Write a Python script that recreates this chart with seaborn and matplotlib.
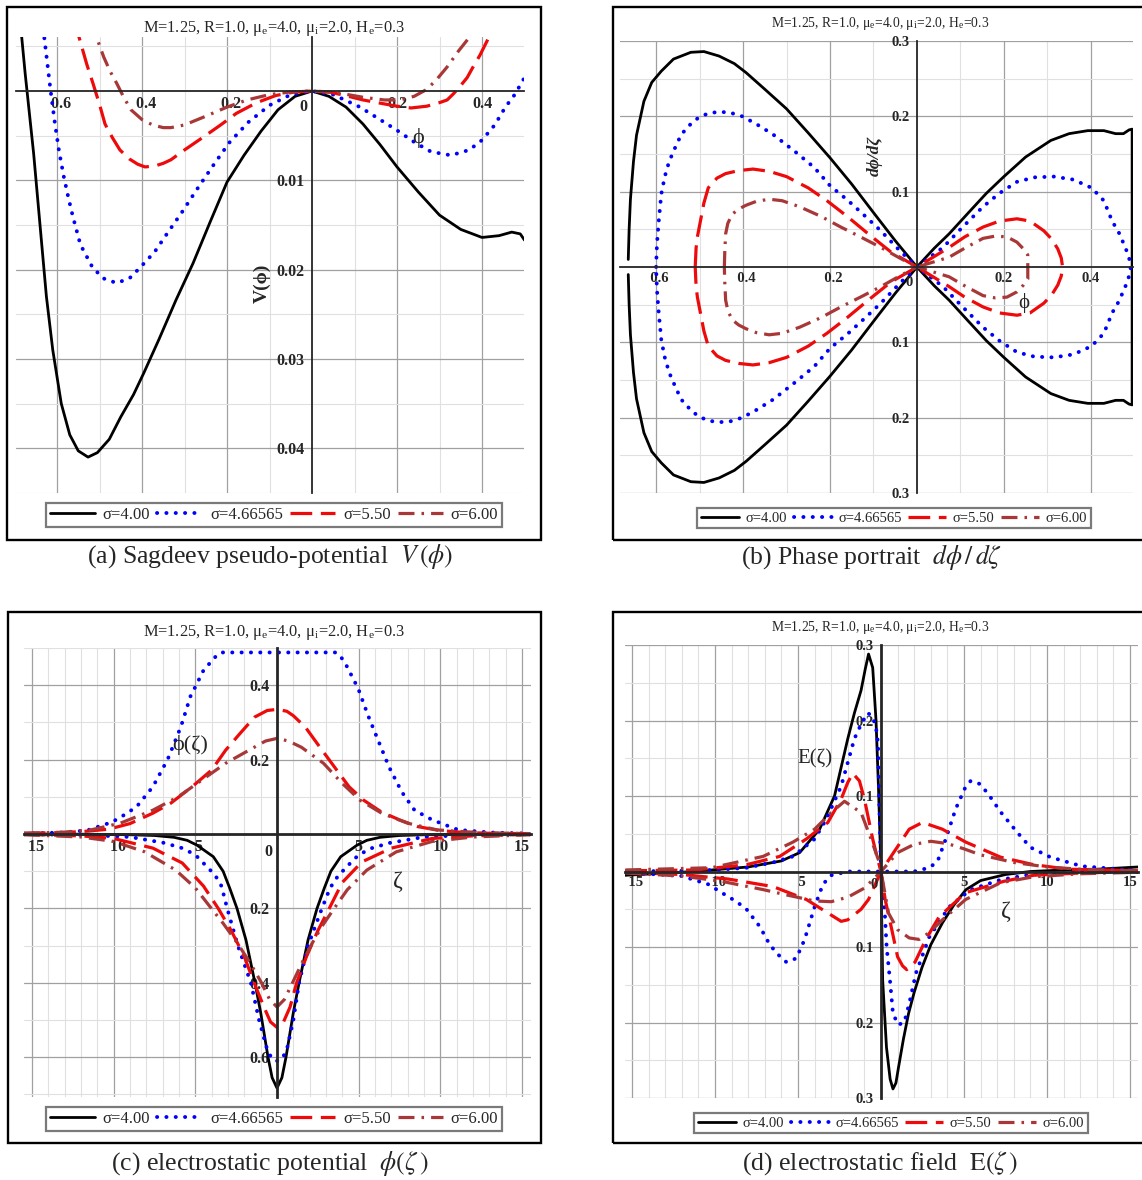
import numpy as np
import matplotlib
matplotlib.use("Agg")
import matplotlib.pyplot as plt
from matplotlib.patches import Rectangle
from matplotlib.ticker import MultipleLocator
import seaborn as sns

# ----------------------------------------------------------
# Values
# ----------------------------------------------------------
sigma_labels = ["σ=4.00", "σ=4.66565", "σ=5.50", "σ=6.00"]

# (a) Sagdeev pseudo-potential V(phi)
a_phi_1 = [-0.695, -0.675, -0.655, -0.64, -0.625, -0.61, -0.59, -0.57, -0.55, -0.527, -0.505, -0.477,
           -0.45, -0.42, -0.396, -0.36, -0.32, -0.28, -0.24, -0.2, -0.16, -0.12, -0.08, -0.04, 0.0,
           0.04, 0.08, 0.12, 0.16, 0.2, 0.25, 0.3, 0.35, 0.4, 0.44, 0.47, 0.49, 0.5]
a_V_1 = [0.012, 0.002, -0.007, -0.015, -0.023, -0.029, -0.035, -0.0385, -0.0403, -0.041, -0.0405, -0.039,
         -0.0365, -0.034, -0.0316, -0.0278, -0.0234, -0.0193, -0.0147, -0.0102, -0.0072, -0.0045, -0.0021,
         -0.0006, 0.0, -0.0006, -0.0018, -0.0037, -0.006, -0.0085, -0.0113, -0.0139, -0.0155, -0.0164,
         -0.0162, -0.0158, -0.016, -0.0167]
a_phi_2 = [-0.635, -0.625, -0.615, -0.605, -0.595, -0.584, -0.573, -0.563, -0.545, -0.516, -0.49, -0.46,
           -0.43, -0.405, -0.37, -0.34, -0.305, -0.272, -0.235, -0.195, -0.15, -0.1, -0.05, 0.0, 0.05,
           0.113, 0.16, 0.2, 0.24, 0.28, 0.327, 0.37, 0.4, 0.43, 0.455, 0.477, 0.5]
a_V_2 = [0.008, 0.004, 0.0, -0.0036, -0.0068, -0.0096, -0.012, -0.014, -0.0172, -0.0198, -0.021, -0.0215,
         -0.021, -0.0198, -0.018, -0.0159, -0.0135, -0.0111, -0.0085, -0.0058, -0.0035, -0.0016, -0.0004,
         0.0, -0.0004, -0.0018, -0.0032, -0.0044, -0.0057, -0.0068, -0.0072, -0.0066, -0.0055, -0.0038,
         -0.0018, -0.0004, 0.0015]
a_phi_3 = [-0.56, -0.545, -0.53, -0.515, -0.5, -0.487, -0.47, -0.452, -0.43, -0.41, -0.393, -0.37, -0.35,
           -0.332, -0.3, -0.254, -0.215, -0.178, -0.13, -0.085, -0.04, 0.0, 0.04, 0.078, 0.12, 0.165, 0.2,
           0.233, 0.27, 0.3, 0.318, 0.333, 0.348, 0.365, 0.379, 0.395, 0.416, 0.43]
a_V_3 = [0.008, 0.0055, 0.003, 0.0008, -0.0015, -0.0037, -0.0052, -0.0066, -0.0076, -0.0082, -0.0085,
         -0.0084, -0.0081, -0.0077, -0.0066, -0.0051, -0.0038, -0.0025, -0.0013, -0.0005, -0.0001, 0.0,
         -0.0001, -0.0005, -0.001, -0.0014, -0.0017, -0.0019, -0.0017, -0.0013, -0.001, -0.0003, 0.0005,
         0.0015, 0.0027, 0.004, 0.006, 0.008]
a_phi_4 = [-0.51, -0.503, -0.49, -0.475, -0.46, -0.443, -0.426, -0.4, -0.375, -0.35, -0.332, -0.3, -0.254,
           -0.2, -0.153, -0.1, -0.05, 0.0, 0.06, 0.12, 0.17, 0.207, 0.24, 0.267, 0.29, 0.318, 0.345, 0.37,
           0.385]
a_V_4 = [0.008, 0.0055, 0.0038, 0.0022, 0.0009, -0.0007, -0.0021, -0.0032, -0.0038, -0.0041, -0.0041,
         -0.0038, -0.0029, -0.0018, -0.001, -0.0004, -0.0001, 0.0, -0.0002, -0.0007, -0.001, -0.001, -0.0006,
         0.0001, 0.0011, 0.0027, 0.0045, 0.006, 0.0075]

# (b) phase portrait, upper half of each orbit (lower half is its mirror)
b_phi_1 = [-0.664, -0.662, -0.659, -0.652, -0.645, -0.628, -0.61, -0.588, -0.56, -0.52, -0.49, -0.455,
           -0.42, -0.393, -0.35, -0.3, -0.25, -0.2, -0.15, -0.097, -0.05, 0.0, 0.04, 0.074, 0.12, 0.16,
           0.2, 0.25, 0.308, 0.35, 0.393, 0.43, 0.457, 0.475, 0.488, 0.495]
b_dp_1 = [0.01, 0.05, 0.09, 0.14, 0.175, 0.22, 0.245, 0.26, 0.276, 0.285, 0.286, 0.28, 0.27, 0.258, 0.236,
          0.21, 0.178, 0.145, 0.11, 0.07, 0.035, 0.0, 0.025, 0.044, 0.073, 0.098, 0.12, 0.146, 0.168,
          0.177, 0.181, 0.181, 0.177, 0.177, 0.182, 0.183]
b_phi_2 = [-0.60, -0.598, -0.594, -0.588, -0.58, -0.57, -0.555, -0.542, -0.52, -0.503, -0.48, -0.455,
           -0.43, -0.402, -0.37, -0.331, -0.28, -0.236, -0.2, -0.158, -0.12, -0.083, -0.04, 0.0, 0.06, 0.1,
           0.152, 0.19, 0.23, 0.27, 0.315, 0.36, 0.402, 0.43, 0.449, 0.465, 0.48, 0.488, 0.492]
b_dp_2 = [0.0, 0.03, 0.06, 0.097, 0.12, 0.14, 0.16, 0.176, 0.19, 0.198, 0.204, 0.206, 0.205, 0.2, 0.19,
          0.176, 0.153, 0.132, 0.108, 0.088, 0.068, 0.048, 0.022, 0.0, 0.026, 0.05, 0.08, 0.098, 0.113,
          0.119, 0.12, 0.116, 0.105, 0.088, 0.061, 0.045, 0.025, 0.012, 0.0]
b_phi_3 = [-0.51, -0.508, -0.505, -0.50, -0.49, -0.48, -0.46, -0.44, -0.41, -0.377, -0.34, -0.30, -0.25,
           -0.207, -0.16, -0.112, -0.06, 0.0, 0.04, 0.074, 0.11, 0.152, 0.19, 0.23, 0.26, 0.292, 0.31,
           0.324, 0.332, 0.335]
b_dp_3 = [0.0, 0.025, 0.04, 0.055, 0.085, 0.105, 0.118, 0.124, 0.128, 0.13, 0.127, 0.12, 0.105, 0.088,
          0.067, 0.044, 0.02, 0.0, 0.014, 0.026, 0.04, 0.053, 0.061, 0.064, 0.061, 0.048, 0.037, 0.024,
          0.012, 0.0]
b_phi_4 = [-0.443, -0.442, -0.44, -0.435, -0.425, -0.41, -0.393, -0.37, -0.34, -0.31, -0.27, -0.22,
           -0.175, -0.13, -0.083, -0.04, 0.0, 0.04, 0.074, 0.11, 0.152, 0.18, 0.207, 0.23, 0.245, 0.255]
b_dp_4 = [0.0, 0.02, 0.044, 0.058, 0.07, 0.077, 0.082, 0.087, 0.09, 0.088, 0.08, 0.067, 0.053, 0.04,
          0.026, 0.012, 0.0, 0.007, 0.013, 0.025, 0.038, 0.041, 0.04, 0.033, 0.024, 0.016]

# (c) electrostatic potential phi(zeta): negative (n) and positive (p) solitons
c_z_1 = [-15.5, -12, -9, -7.5, -6.3, -5.5, -4.9, -3.9, -3.3, -2.9, -2.45, -1.9, -1.35, -1.0, -0.55, -0.3,
         0.0, 0.3, 0.55, 1.0, 1.35, 1.9, 2.45, 2.9, 3.3, 3.9, 4.9, 5.5, 6.3, 7.5, 9, 12, 15.5]
c_f_1 = [0.0, -0.0005, -0.002, -0.004, -0.009, -0.017, -0.03, -0.061, -0.1, -0.145, -0.2, -0.285, -0.4,
         -0.48, -0.6, -0.655, -0.683, -0.655, -0.6, -0.48, -0.4, -0.285, -0.2, -0.145, -0.1, -0.061, -0.03,
         -0.017, -0.009, -0.004, -0.002, -0.0005, 0.0]
c_z_2p = [-15.5, -13.1, -11.6, -10.1, -9.4, -8.6, -7.6, -6.7, -6.05, -5.8, -5.3, -4.95, -4.5, -3.9, -3.65,
          -3.4, 0.0, 3.6, 3.85, 4.19, 4.97, 5.57, 6.19, 6.86, 7.64, 8.42, 9.5, 11.1, 13.1, 15.5]
c_f_2p = [0.001, 0.004, 0.01, 0.032, 0.05, 0.073, 0.127, 0.2, 0.27, 0.30, 0.37, 0.40, 0.44, 0.47, 0.482,
          0.488, 0.488, 0.488, 0.48, 0.458, 0.391, 0.319, 0.252, 0.18, 0.113, 0.064, 0.038, 0.011, 0.004,
          0.001]
c_z_2n = [-15.5, -12, -9, -6.9, -5.8, -5.0, -4.4, -3.8, -3.4, -3.05, -2.4, -1.6, -1.1, -0.6, -0.3, 0.0,
          0.3, 0.6, 1.0, 1.35, 1.9, 2.75, 3.25, 3.7, 4.27, 5.0, 5.8, 6.9, 9, 12, 15.5]
c_f_2n = [-0.001, -0.002, -0.008, -0.024, -0.038, -0.056, -0.083, -0.11, -0.14, -0.2, -0.3, -0.4, -0.5,
          -0.58, -0.605, -0.61, -0.605, -0.58, -0.5, -0.4, -0.3, -0.2, -0.145, -0.115, -0.088, -0.056,
          -0.038, -0.024, -0.008, -0.002, -0.001]
c_z_3p = [-15.5, -13, -11.5, -10.3, -9, -7.6, -6.5, -5.2, -4.0, -3.15, -2.27, -1.38, -0.6, 0.0, 0.6, 1.0,
          1.74, 2.63, 3.52, 4.41, 5.3, 6.4, 7.5, 8.6, 10, 11.5, 13, 15.5]
c_f_3p = [0.002, 0.004, 0.008, 0.013, 0.028, 0.056, 0.083, 0.127, 0.172, 0.225, 0.27, 0.314, 0.332, 0.335,
          0.33, 0.318, 0.287, 0.233, 0.18, 0.127, 0.091, 0.059, 0.038, 0.02, 0.009, 0.004, 0.002, 0.001]
c_z_3n = [-15.5, -12, -10, -7.6, -5.8, -4.5, -3.6, -2.8, -2.0, -1.4, -0.8, -0.4, 0.0, 0.4, 0.8, 1.2, 1.8,
          2.5, 3.2, 4.0, 5.2, 7.0, 9.5, 12, 15.5]
c_f_3n = [-0.001, -0.005, -0.012, -0.038, -0.078, -0.14, -0.2, -0.26, -0.33, -0.4, -0.465, -0.505, -0.52,
          -0.505, -0.465, -0.4, -0.33, -0.26, -0.2, -0.13, -0.075, -0.038, -0.012, -0.005, -0.001]
c_z_4p = [-15.5, -13, -11.4, -9.6, -7.6, -6.05, -4.6, -3.15, -1.4, -0.7, 0.0, 0.7, 1.5, 2.85, 3.97, 5.08,
          6.4, 8.0, 9.8, 11.5, 13, 15.5]
c_f_4p = [0.002, 0.005, 0.011, 0.029, 0.064, 0.1, 0.145, 0.19, 0.233, 0.25, 0.257, 0.25, 0.233, 0.19,
          0.137, 0.091, 0.056, 0.029, 0.011, 0.006, 0.003, 0.001]
c_z_4n = [-15.5, -12, -10, -8.1, -6.2, -5.0, -4.2, -3.3, -2.4, -1.6, -0.95, -0.45, 0.0, 0.45, 0.95, 1.6,
          2.2, 2.8, 3.5, 4.3, 5.5, 7.3, 9.5, 12, 15.5]
c_f_4n = [-0.002, -0.008, -0.02, -0.048, -0.097, -0.145, -0.19, -0.24, -0.295, -0.35, -0.4, -0.445, -0.465,
          -0.445, -0.4, -0.34, -0.29, -0.245, -0.2, -0.15, -0.097, -0.048, -0.02, -0.008, -0.002]

# (d) electrostatic field E(zeta)
d_z_1 = [-15.4, -12, -10.2, -8, -6, -4.9, -3.7, -2.8, -2.0, -1.6, -1.2, -0.95, -0.75, -0.5, -0.3, -0.15,
         0.0, 0.1, 0.33, 0.55, 0.72, 0.9, 1.05, 1.35, 1.66, 2.0, 2.47, 3.0, 3.7, 4.4, 5.12, 6.0, 7.5, 9.0,
         11, 13, 15.5]
d_E_1 = [-0.005, -0.001, 0.002, 0.006, 0.014, 0.025, 0.056, 0.1, 0.176, 0.21, 0.24, 0.268, 0.288, 0.27,
         0.2, 0.11, 0.0, -0.144, -0.233, -0.275, -0.288, -0.28, -0.26, -0.222, -0.188, -0.16, -0.127,
         -0.097, -0.068, -0.044, -0.024, -0.012, -0.004, 0.0, 0.002, 0.003, 0.006]
d_z_2n = [-15.4, -12, -10, -8.1, -6.5, -5.3, -4.0, -3.3, -2.4, -1.6, -1.2, -0.8, -0.5, -0.3, -0.18, -0.1,
          0.0, 0.1, 0.23, 0.34, 0.54, 0.72, 1.03, 1.4, 1.7, 2.1, 2.9, 4.1, 5.4, 7.2, 9, 12, 15.5]
d_E_2n = [0.0, 0.001, 0.002, 0.005, 0.012, 0.02, 0.043, 0.069, 0.113, 0.176, 0.195, 0.21, 0.205, 0.19,
          0.17, 0.09, 0.0, -0.025, -0.055, -0.1, -0.144, -0.188, -0.203, -0.2, -0.175, -0.135, -0.087,
          -0.047, -0.024, -0.011, -0.004, -0.001, 0.0]
d_z_2p = [-15.4, -12, -10.4, -9.6, -8.7, -8.1, -7.3, -6.7, -6.2, -5.7, -5.1, -4.6, -4.0, -3.5, -3.0, -2.0,
          0.0, 2.0, 2.9, 3.4, 3.9, 4.5, 5.05, 5.4, 5.95, 6.45, 7.2, 8.2, 9.0, 10.2, 12.1, 15.5]
d_E_2p = [-0.001, -0.006, -0.017, -0.028, -0.04, -0.05, -0.073, -0.097, -0.11, -0.12, -0.115, -0.09,
          -0.047, -0.017, -0.005, 0.0, 0.0, 0.0, 0.005, 0.013, 0.043, 0.083, 0.11, 0.12, 0.116, 0.103,
          0.079, 0.052, 0.032, 0.019, 0.007, 0.001]
d_z_3n = [-15.4, -11.2, -8.1, -6.1, -4.5, -3.2, -2.4, -2.0, -1.7, -1.3, -1.0, -0.5, -0.2, 0.0, 0.25, 0.65,
          1.0, 1.3, 1.55, 2.05, 2.7, 3.5, 5.1, 7.4, 9.2, 12, 15.5]
d_E_3n = [0.001, 0.002, 0.009, 0.02, 0.043, 0.065, 0.096, 0.118, 0.13, 0.12, 0.096, 0.043, 0.016, 0.0,
          -0.037, -0.077, -0.113, -0.125, -0.13, -0.12, -0.09, -0.06, -0.028, -0.013, -0.005, -0.002, 0.0]
d_z_3p = [-15.4, -12, -9.2, -6.5, -4.5, -3.2, -2.4, -2.0, -1.2, -0.75, 0.0, 1.0, 1.7, 2.5, 3.7, 5.1, 7.2,
          9.2, 11.3, 15.5]
d_E_3p = [-0.001, -0.004, -0.01, -0.02, -0.037, -0.055, -0.066, -0.064, -0.05, -0.037, 0.0, 0.033, 0.056,
          0.065, 0.056, 0.039, 0.019, 0.009, 0.003, 0.001]
d_z_4n = [-15.4, -10.2, -7.1, -5.3, -4.0, -3.0, -2.2, -1.2, -0.6, -0.1, 0.0, 0.45, 1.0, 1.7, 2.3, 2.9,
          3.7, 5.1, 7.2, 9.2, 12, 15.5]
d_E_4n = [0.002, 0.005, 0.02, 0.039, 0.056, 0.078, 0.093, 0.078, 0.043, 0.012, 0.0, -0.055, -0.077,
          -0.088, -0.09, -0.081, -0.064, -0.037, -0.015, -0.007, -0.003, -0.001]
d_z_4p = [-15.4, -12, -9.6, -7.1, -5.7, -4.0, -3.0, -2.0, -1.0, 0.0, 1.0, 2.0, 3.0, 4.0, 5.0, 6.0, 8.0,
          10, 12, 15.5]
d_E_4p = [-0.002, -0.006, -0.013, -0.024, -0.031, -0.039, -0.04, -0.034, -0.022, 0.0, 0.025, 0.036, 0.04,
          0.037, 0.03, 0.022, 0.012, 0.006, 0.003, 0.001]

# ----------------------------------------------------------
# Style
# ----------------------------------------------------------
sns.set_style("white")
plt.rcParams["font.family"] = ["Liberation Serif", "DejaVu Serif"]
plt.rcParams["mathtext.fontset"] = "stix"

STYLES = [
    dict(color="black", lw=2.0, linestyle="-"),
    dict(color="#0000ff", lw=2.8, linestyle=(0, (0.05, 2.35)), dash_capstyle="round"),
    dict(color="#ee0a0a", lw=2.3, linestyle=(0, (6.8, 2.7))),
    dict(color="#a83838", lw=2.3, linestyle=(0, (5, 2.2, 0.8, 2.2))),
]
PARAMS = (r"M=1.25, R=1.0, μ$_{\mathregular{e}}$=4.0, μ$_{\mathregular{i}}$=2.0, "
          r"H$_{\mathregular{e}}$=0.3")

W, H = 1142, 1180


def frect(x0, y0, x1, y1):
    return [x0 / W, 1 - y1 / H, (x1 - x0) / W, (y1 - y0) / H]


def curve(ax, x, y, k, label=None):
    sns.lineplot(x=np.asarray(x), y=np.asarray(y), ax=ax, sort=False, estimator=None,
                 label=label, **STYLES[k])


def loop(ax, phi, dp, k, label=None):
    phi = np.asarray(phi)
    dp = np.asarray(dp)
    curve(ax, np.r_[phi, phi[::-1]], np.r_[dp, -dp[::-1]], k, label)


def xtick_text(v):
    # the minus sign is not shown, but its room is kept (as in the original export)
    return ("\u2002" if v < 0 else "") + f"{abs(v):g}"


def ytick_text(v):
    return f"{abs(v):g}"


def maple_axes(ax, xlim, ylim, xticks, xminor, yticks, yminor, axis_lw, zero_off, fs):
    # axes through the origin first: moving a spine rebuilds the ticks
    for s in ("top", "right"):
        ax.spines[s].set_visible(False)
    for s in ("left", "bottom"):
        ax.spines[s].set_position(("data", 0))
        ax.spines[s].set_linewidth(axis_lw)
    ax.set_xlim(*xlim)
    ax.set_ylim(*ylim)
    ax.xaxis.set_minor_locator(MultipleLocator(xminor))
    ax.yaxis.set_minor_locator(MultipleLocator(yminor))
    ax.tick_params(which="major", length=4, width=1, pad=1.5)
    ax.tick_params(which="minor", length=3, width=1)
    ax.tick_params(axis="x", which="both", length=2)
    ax.set_xticks(xticks, [xtick_text(v) for v in xticks], fontweight="bold", fontsize=fs)
    ax.set_yticks(yticks, [ytick_text(v) for v in yticks], fontweight="bold", fontsize=fs)
    ax.grid(True, which="major", color="#a0a0a0", lw=0.9)
    ax.grid(True, which="minor", color="#e0e0e0", lw=0.8)
    ax.set_axisbelow(True)
    ax.set_xlabel("")
    ax.set_ylabel("")
    ax.annotate("0", (0, 0), xytext=zero_off, textcoords="offset pixels", ha="center",
                va="center", fontweight="bold", fontsize=fs)


def legend(ax, cx, cy, fs, hl):
    handles, labels = ax.get_legend_handles_labels()
    leg = ax.legend(handles, labels, loc="center", bbox_to_anchor=(cx / W, 1 - cy / H),
                    bbox_transform=fig.transFigure, ncol=4, frameon=True, fancybox=False,
                    edgecolor="#7a7a7a", framealpha=1, fontsize=fs, handlelength=hl,
                    handletextpad=0.45, columnspacing=0.45, borderpad=0.25, borderaxespad=0)
    leg.get_frame().set_linewidth(1.6)


fig = plt.figure(figsize=(W / 100, H / 100), dpi=100)

# panel frames, titles and captions
for x0, y0, x1, y1 in [(7, 7, 541, 540), (613, 7, 1152, 540), (8, 612, 541, 1143), (613, 612, 1152, 1143)]:
    fig.add_artist(Rectangle((x0 / W, 1 - y1 / H), (x1 - x0) / W, (y1 - y0) / H,
                             transform=fig.transFigure, fill=False, lw=1.7, ec="black"))
for cx, cy, fs in [(274, 28, 11.8), (880, 23, 9.8), (274, 632, 11.8), (880, 628, 9.8)]:
    fig.text(cx / W, 1 - cy / H, PARAMS, ha="center", va="center", fontsize=fs)

captions = [(270, 557, r"(a) Sagdeev pseudo-potential  $V\,(\phi)$"),
            (872, 557, r"(b) Phase portrait  $d\phi\,/\,d\zeta$"),
            (270, 1163, r"(c) electrostatic potential  $\phi(\zeta\,)$"),
            (880, 1163, r"(d) electrostatic field  $\mathrm{E}(\zeta\,)$")]
for cx, cy, txt in captions:
    fig.text(cx / W, 1 - cy / H, txt, ha="center", va="center", fontsize=18.5)

# ----------------------------------------------------------
# (a) Sagdeev pseudo-potential
# ----------------------------------------------------------
ax_a = fig.add_axes(frect(16, 37, 524, 493))
for k, (x, y) in enumerate([(a_phi_1, a_V_1), (a_phi_2, a_V_2), (a_phi_3, a_V_3), (a_phi_4, a_V_4)]):
    curve(ax_a, x, y, k, sigma_labels[k])
maple_axes(ax_a, (-0.6965, 0.4988), (-0.04502, 0.00605),
           [-0.6, -0.4, -0.2, 0.2, 0.4], 0.1, [-0.04, -0.03, -0.02, -0.01], 0.005, 1.3, (-9, -16), 11.5)
ax_a.text(0.25, -0.0053, "ϕ", fontsize=16, ha="center", va="center")
ax_a.text(-0.118, -0.0215, "V(ϕ)", fontsize=14, fontweight="bold", rotation=90,
          ha="center", va="center")
legend(ax_a, 274, 515, 12, 2.7)

# ----------------------------------------------------------
# (b) Phase portrait
# ----------------------------------------------------------
ax_b = fig.add_axes(frect(620, 41, 1133, 493))
for k, (x, y) in enumerate([(b_phi_1, b_dp_1), (b_phi_2, b_dp_2), (b_phi_3, b_dp_3), (b_phi_4, b_dp_4)]):
    loop(ax_b, x, y, k, sigma_labels[k])
maple_axes(ax_b, (-0.683, 0.497), (-0.3, 0.3),
           [-0.6, -0.4, -0.2, 0.2, 0.4], 0.1, [-0.3, -0.2, -0.1, 0.1, 0.2, 0.3], 0.05, 1.3, (-8, -15),
           10.5)
ax_b.text(0.245, -0.048, "ϕ", fontsize=15, ha="center", va="center")
ax_b.text(-0.097, 0.147, "dϕ/dζ", fontsize=12.5, fontweight="bold", fontstyle="italic",
          rotation=90, ha="center", va="center")
legend(ax_b, 894, 518, 10.5, 2.6)

# ----------------------------------------------------------
# (c) electrostatic potential
# ----------------------------------------------------------
ax_c = fig.add_axes(frect(24, 648, 531, 1097))
c_sets = [[(c_z_1, c_f_1)], [(c_z_2p, c_f_2p), (c_z_2n, c_f_2n)],
          [(c_z_3p, c_f_3p), (c_z_3n, c_f_3n)], [(c_z_4p, c_f_4p), (c_z_4n, c_f_4n)]]
for k, pairs in enumerate(c_sets):
    for j, (x, y) in enumerate(pairs):
        curve(ax_c, x, y, k, sigma_labels[k] if j == 0 else None)
maple_axes(ax_c, (-15.49, 15.55), (-0.707, 0.5),
           [-15, -10, -5, 5, 10, 15], 1, [-0.6, -0.4, -0.2, 0.2, 0.4], 0.1, 2.0, (-9, -18), 11.5)
ax_c.text(-5.3, 0.239, "ϕ(ζ)", fontsize=16, ha="center", va="center")
ax_c.text(7.4, -0.129, "ζ", fontsize=17, ha="center", va="center")
legend(ax_c, 274, 1119, 12, 2.7)

# ----------------------------------------------------------
# (d) electrostatic field
# ----------------------------------------------------------
ax_d = fig.add_axes(frect(625, 645, 1138, 1098))
d_sets = [[(d_z_1, d_E_1)], [(d_z_2n, d_E_2n), (d_z_2p, d_E_2p)],
          [(d_z_3n, d_E_3n), (d_z_3p, d_E_3p)], [(d_z_4n, d_E_4n), (d_z_4p, d_E_4p)]]
for k, pairs in enumerate(d_sets):
    for j, (x, y) in enumerate(pairs):
        curve(ax_d, x, y, k, sigma_labels[k] if j == 0 else None)
maple_axes(ax_d, (-15.42, 15.48), (-0.3, 0.3),
           [-15, -10, -5, 5, 10, 15], 1, [-0.3, -0.2, -0.1, 0.1, 0.2, 0.3], 0.05, 2.0, (-7, -13), 10.5)
ax_d.text(-4.0, 0.149, "E(ζ)", fontsize=15, ha="center", va="center")
ax_d.text(7.5, -0.053, "ζ", fontsize=17, ha="center", va="center")
legend(ax_d, 891, 1123, 10.5, 2.6)

fig.savefig("out.png", dpi=100)
